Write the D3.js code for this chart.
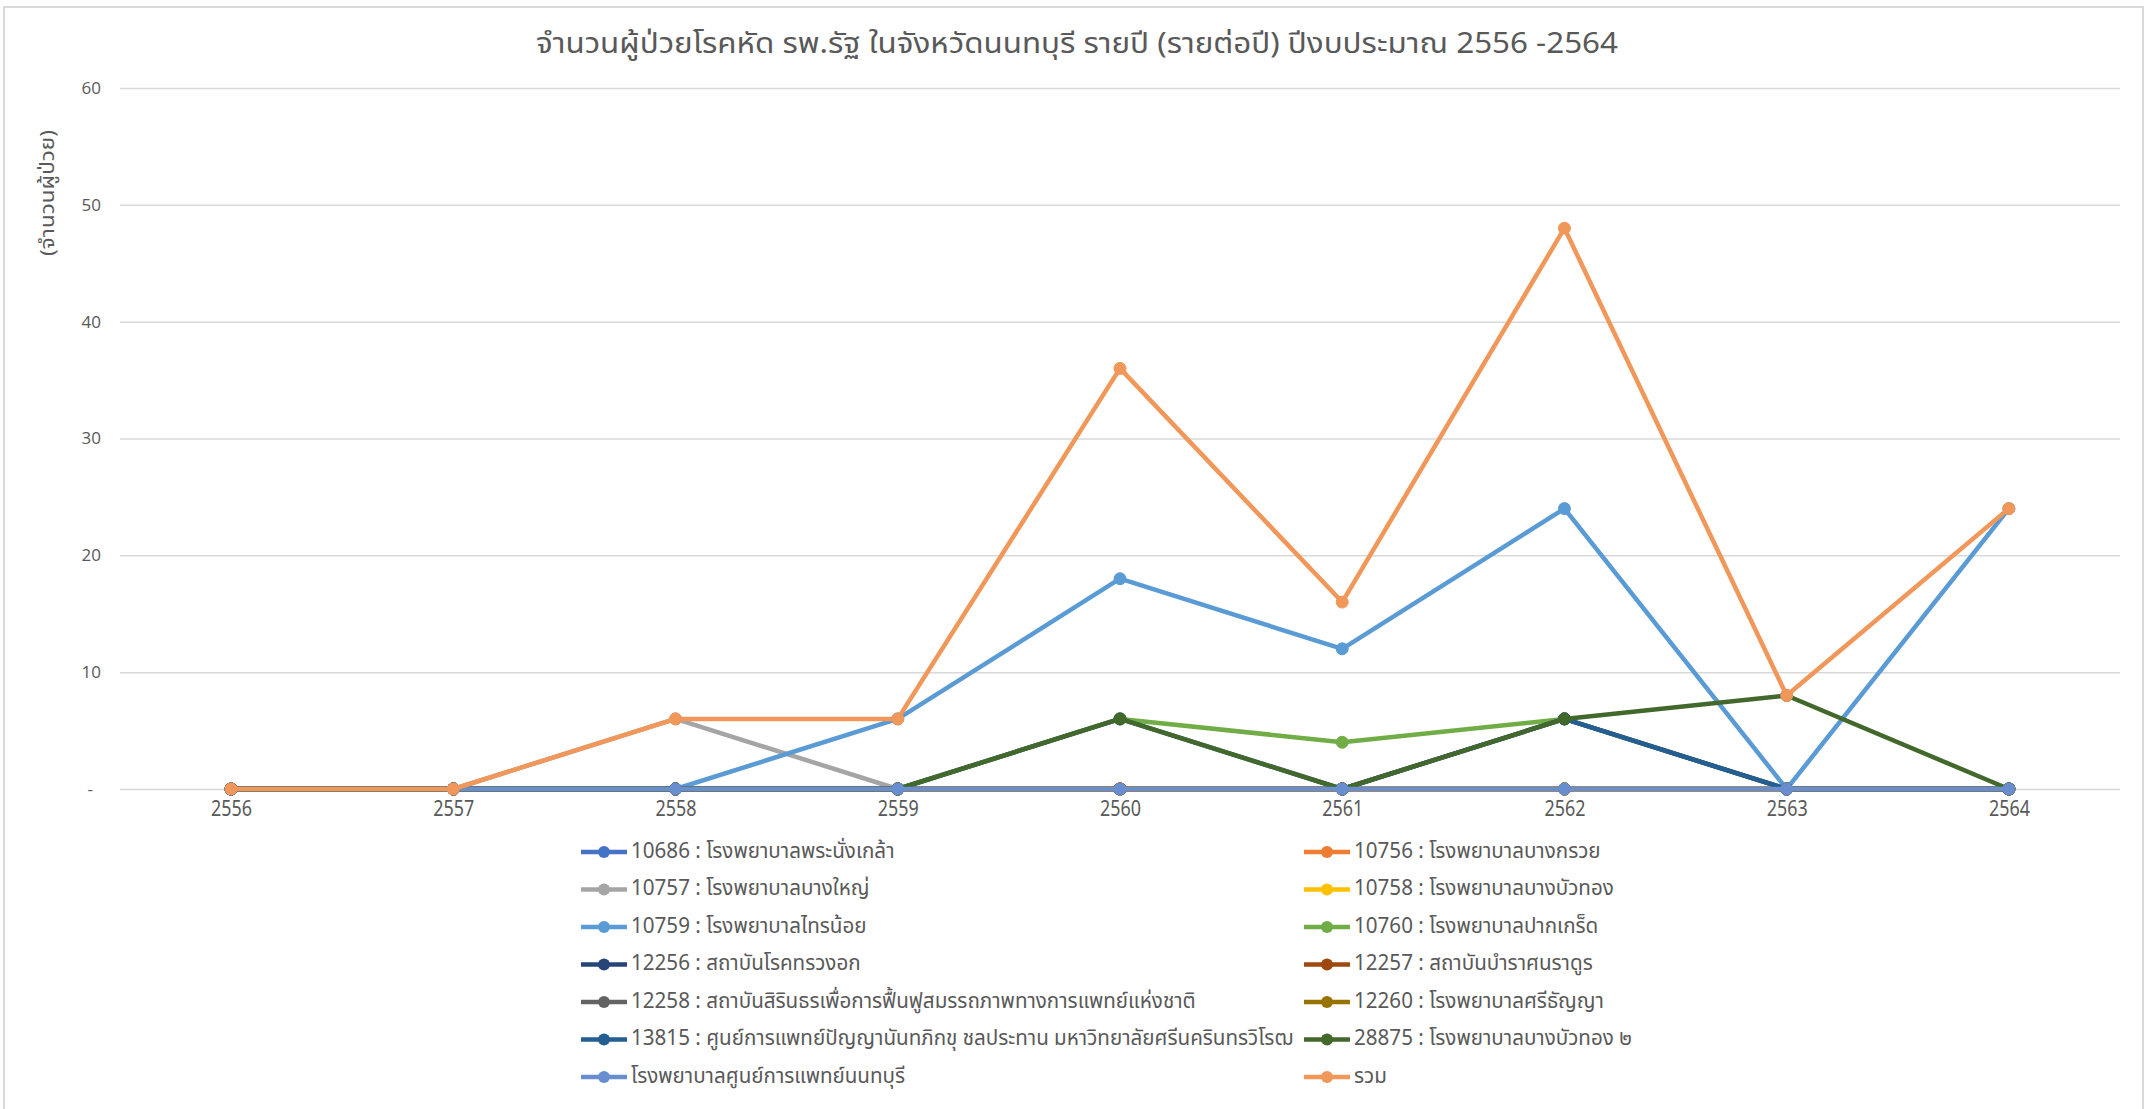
<!DOCTYPE html>
<html><head><meta charset="utf-8">
<script src="https://cdn.jsdelivr.net/npm/d3@7"></script>
<style>body{margin:0;background:#fff;} svg{display:block}</style>
</head><body><svg id="c" width="2148" height="1109"></svg>
<script>
const chartTitle = "จำนวนผู้ป่วยโรคหัด รพ.รัฐ ในจังหวัดนนทบุรี รายปี (รายต่อปี) ปีงบประมาณ 2556 -2564";
const yAxisTitle = "(จำนวนผู้ป่วย)";
const years = ["2556","2557","2558","2559","2560","2561","2562","2563","2564"];
const yTicks = [0,10,20,30,40,50,60];
const seriesNames = [
  "10686 : โรงพยาบาลพระนั่งเกล้า",
  "10756 : โรงพยาบาลบางกรวย",
  "10757 : โรงพยาบาลบางใหญ่",
  "10758 : โรงพยาบาลบางบัวทอง",
  "10759 : โรงพยาบาลไทรน้อย",
  "10760 : โรงพยาบาลปากเกร็ด",
  "12256 : สถาบันโรคทรวงอก",
  "12257 : สถาบันบำราศนราดูร",
  "12258 : สถาบันสิรินธรเพื่อการฟื้นฟูสมรรถภาพทางการแพทย์แห่งชาติ",
  "12260 : โรงพยาบาลศรีธัญญา",
  "13815 : ศูนย์การแพทย์ปัญญานันทภิกขุ ชลประทาน มหาวิทยาลัยศรีนครินทรวิโรฒ",
  "28875 : โรงพยาบาลบางบัวทอง ๒",
  "โรงพยาบาลศูนย์การแพทย์นนทบุรี",
  "รวม"
];
const seriesColors = ["#4472C4","#ED7D31","#A5A5A5","#FFC000","#5B9BD5","#70AD47","#264478","#9E480E","#636363","#997300","#255E91","#43682B","#698ED0","#F1975A"];
const v10686 = [0,0,0,0,0,0,0,0,0];
const v10756 = [0,0,0,0,0,0,0,0,0];
const v10757 = [0,0,6,0,0,0,0,0,0];
const v10758 = [0,0,0,0,0,0,0,0,0];
const v10759 = [0,0,0,6,18,12,24,0,24];
const v10760 = [0,0,0,0,6,4,6,0,0];
const v12256 = [0,0,0,0,0,0,6,0,0];
const v12257 = [0,0,0,0,0,0,0,0,0];
const v12258 = [0,0,0,0,0,0,0,0,0];
const v12260 = [0,0,0,0,0,0,0,0,0];
const v13815 = [0,0,0,0,6,0,6,0,0];
const v28875 = [0,0,0,0,6,0,6,8,0];
const vNonthaburiMed = [0,0,0,0,0,0,0,0,0];
const vTotal = [0,0,6,6,36,16,48,8,24];
const seriesValues = [v10686,v10756,v10757,v10758,v10759,v10760,v12256,v12257,v12258,v12260,v13815,v28875,vNonthaburiMed,vTotal];

const svg = d3.select("#c");
const thai = "'Noto Sans Thai','Noto Sans Thai UI','Noto Sans','DejaVu Sans',sans-serif";
const txt = "#595959";

svg.append("rect").attr("x",4).attr("y",7).attr("width",2139).attr("height",1115)
  .attr("fill","#fff").attr("stroke","#d9d9d9").attr("stroke-width",2);

const x = d3.scalePoint().domain(years).range([120,2120]).padding(0.5);
const y = d3.scaleLinear().domain([0,60]).range([789,88]);

function condense(sel, factor){
  sel.each(function(){
    const w = this.getComputedTextLength();
    d3.select(this).attr("textLength", w*factor).attr("lengthAdjust","spacingAndGlyphs");
  });
}

// title
const t = svg.append("text").attr("x",1077).attr("y",45).attr("text-anchor","middle")
  .attr("dominant-baseline","middle").attr("fill",txt)
  .style("font-family",thai).style("font-size","29px").text(chartTitle);
t.attr("textLength", 1082).attr("lengthAdjust","spacingAndGlyphs");

// y axis grid
const gy = svg.append("g").attr("transform","translate(120,0)")
  .call(d3.axisLeft(y).tickValues(yTicks).tickSize(-2000).tickPadding(19)
    .tickFormat(d => d===0 ? "-" : d));
gy.select(".domain").remove();
gy.selectAll(".tick line").attr("stroke","#d9d9d9").attr("stroke-width",1.5);
gy.selectAll(".tick text").attr("fill",txt).style("font-family","'Open Sans','Noto Sans',sans-serif")
  .style("font-size","17px").attr("dx", d => d===0 ? -8 : 0);

// y title
const yt = svg.append("text").attr("transform","translate(48,193) rotate(-90)")
  .attr("text-anchor","middle").attr("dominant-baseline","middle").attr("fill",txt)
  .style("font-family",thai).style("font-size","20px").text(yAxisTitle);
yt.attr("textLength",126).attr("lengthAdjust","spacingAndGlyphs");

// x axis
const gx = svg.append("g").attr("transform","translate(0,789)")
  .call(d3.axisBottom(x).tickSize(0).tickPadding(12));
gx.select(".domain").remove();
gx.selectAll(".tick text").attr("fill",txt).style("font-family",thai).style("font-size","21px");
{
  const n = gx.select(".tick text").node();
  const f = 41 / n.getComputedTextLength();
  condense(gx.selectAll(".tick text"), f);
}

// series
const line = d3.line().x((d,i)=>x(years[i])).y(d=>y(d));
seriesValues.forEach((vals, si) => {
  const g = svg.append("g");
  const c = seriesColors[si];
  g.append("path").datum(vals).attr("d", line).attr("fill","none")
    .attr("stroke", c).attr("stroke-width",4.5).attr("stroke-linejoin","round").attr("stroke-linecap","round");
  g.selectAll("circle").data(vals).join("circle")
    .attr("cx",(d,i)=>x(years[i])).attr("cy",d=>y(d)).attr("r",6)
    .attr("fill",c).attr("stroke",c).attr("stroke-width",1);
});

// legend
const lg = svg.append("g");
const colX = [581, 1304];
const items = lg.selectAll("g").data(seriesNames).join("g")
  .attr("transform",(d,i)=>`translate(${colX[i%2]},${852 + Math.floor(i/2)*37.5})`);
items.append("line").attr("x1",0).attr("x2",46).attr("y1",0).attr("y2",0)
  .attr("stroke",(d,i)=>seriesColors[i]).attr("stroke-width",4.5);
items.append("circle").attr("cx",23).attr("cy",0).attr("r",6).attr("fill",(d,i)=>seriesColors[i]);
const lt = items.append("text").attr("x",50).attr("y",0).attr("dominant-baseline","middle")
  .attr("fill",txt).style("font-family",thai).style("font-size","21px").text(d=>d);
{
  const n = lt.filter((d,i)=>i===10).node();
  const f = 662 / n.getComputedTextLength();
  condense(lt, f);
}
</script></body></html>
